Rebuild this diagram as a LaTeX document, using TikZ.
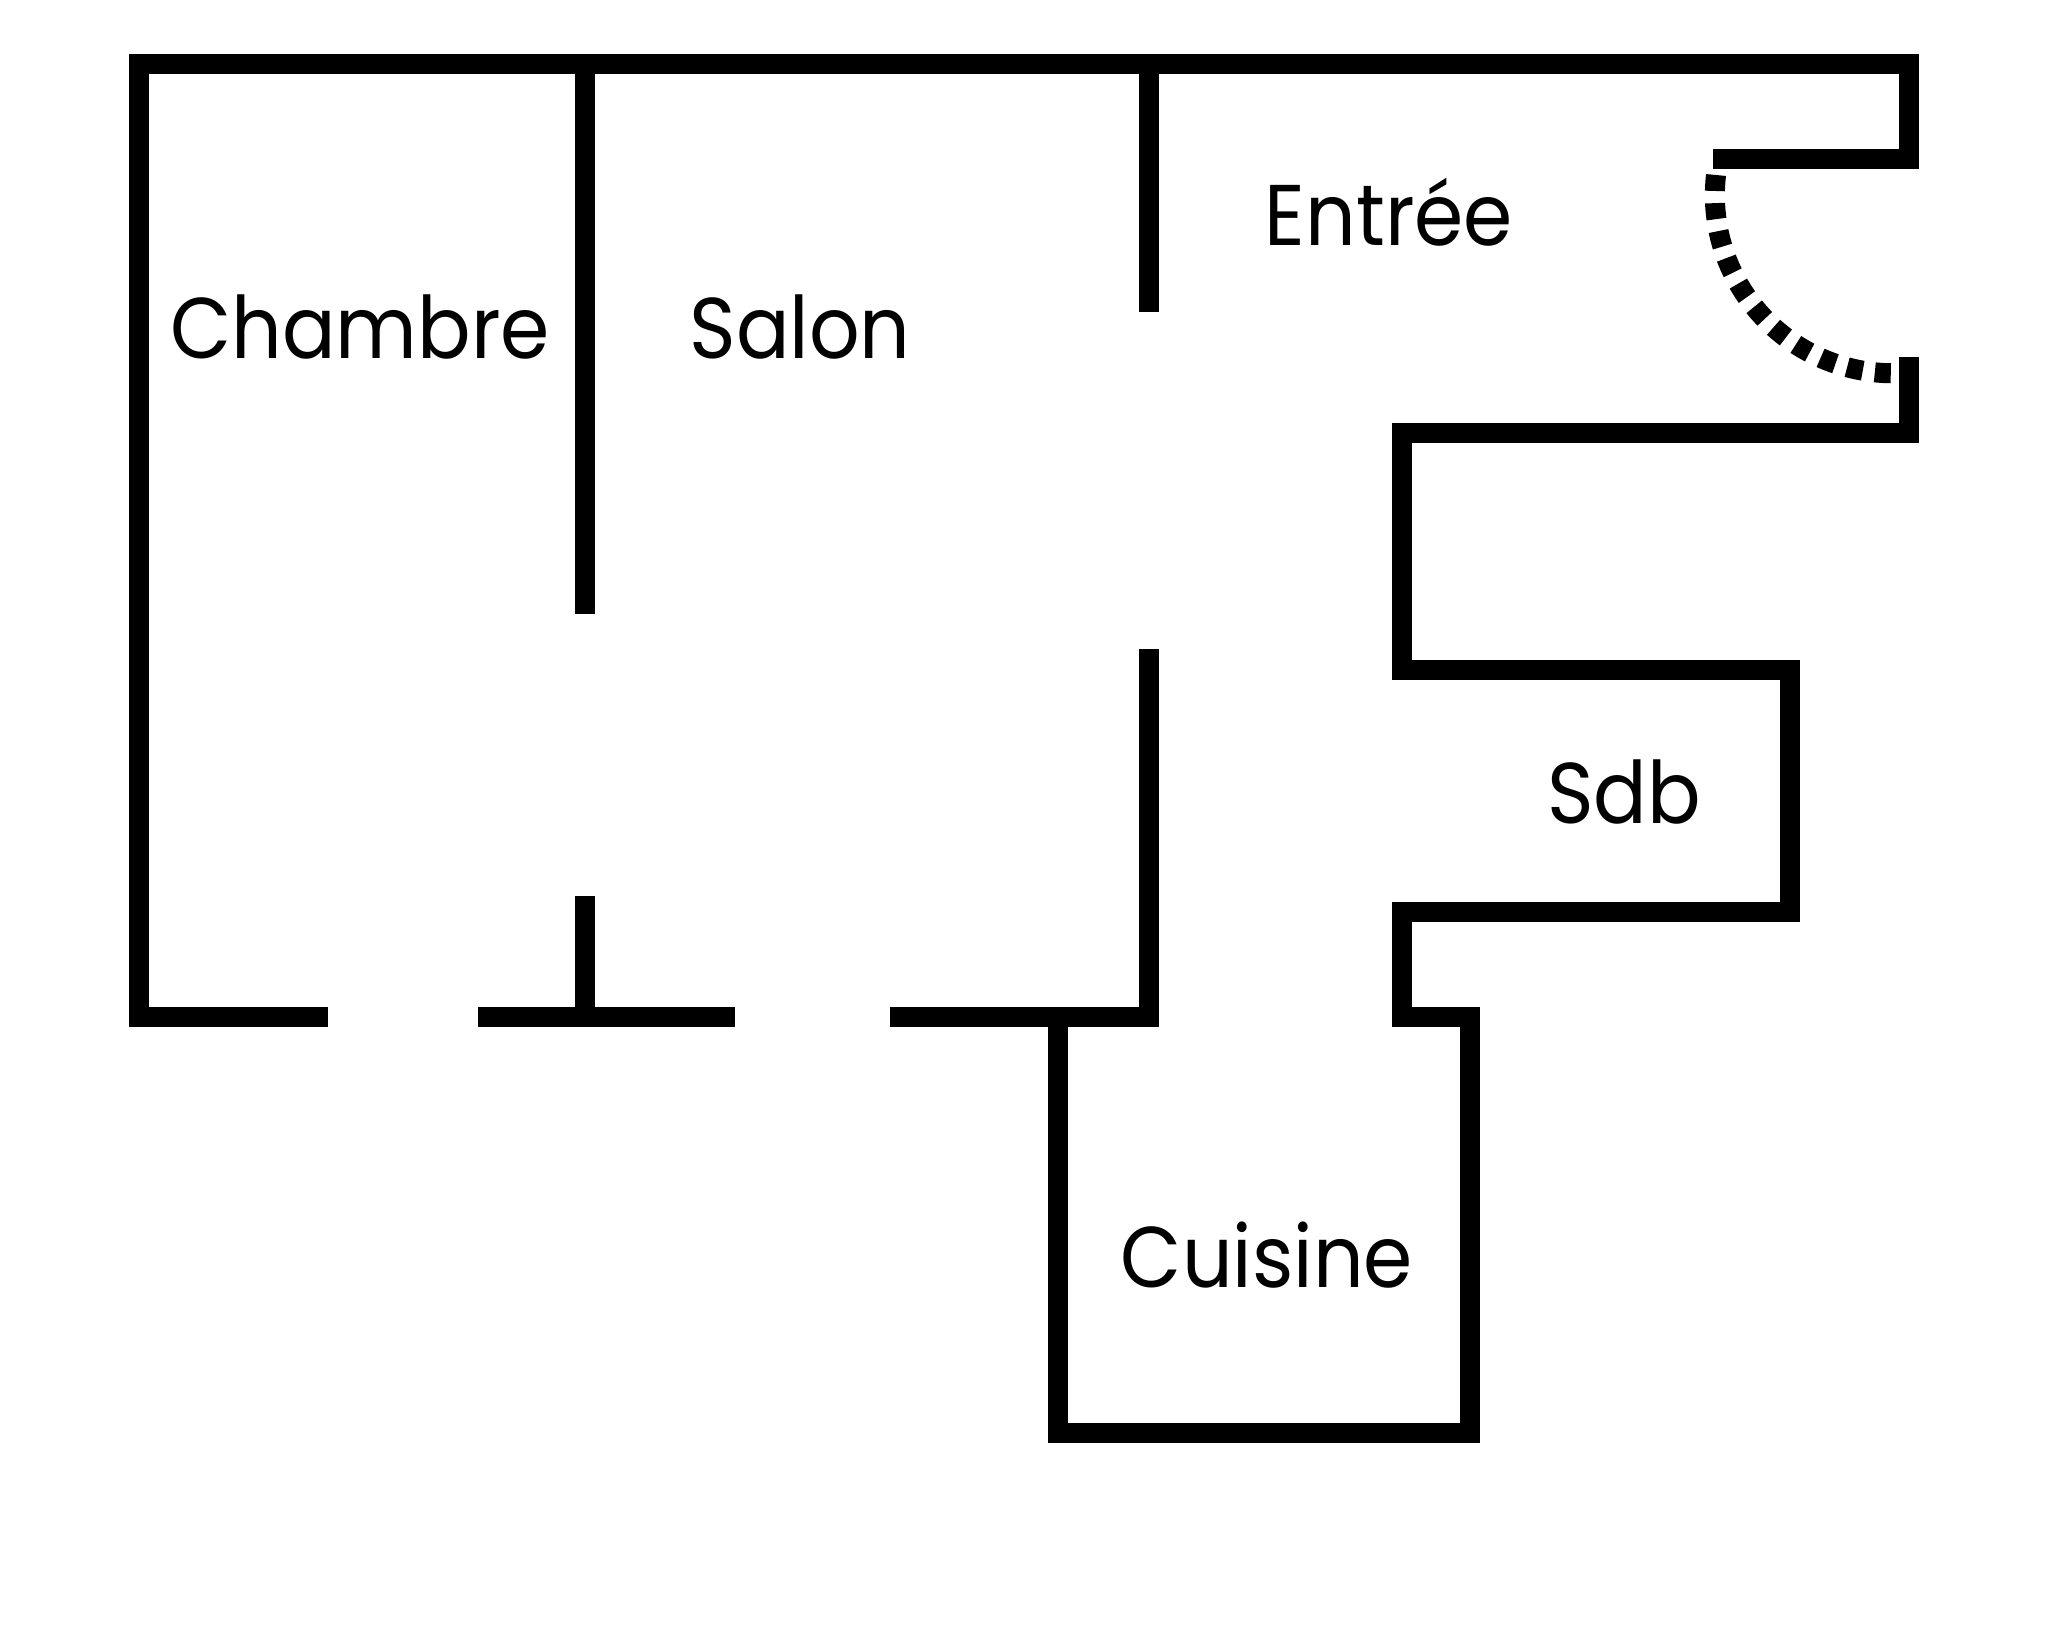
\documentclass[tikz,border=0pt]{standalone}
\usepackage{fontspec}
\setmainfont{Poppins}
\usepackage{tikz}
\pgfdeclarelayer{nodelayer}
\pgfdeclarelayer{edgelayer}
\pgfsetlayers{nodelayer,edgelayer,main}
\tikzset{
    wall/.style = {line width=0.2cm, line join=miter, line cap=butt},
    door/.style = {line width=0.2cm, line cap=butt, dash pattern=on 0.16cm off 0.1216cm},
    room/.style = {inner sep=0pt, anchor=base, xscale=0.92, font=\fontsize{24.5pt}{30pt}\selectfont}
}
\begin{document}
\begin{tikzpicture}[x=0.01cm, y=-0.01cm]
    \useasboundingbox (0, 0) rectangle (2048, 1645);
    \begin{pgfonlayer}{nodelayer}
        \node [style=room] (chambre) at (360, 358) {Chambre};
        \node [style=room] (salon) at (800, 358) {Salon};
        \node [style=room] (entree) at (1389, 245) {Entrée};
        \node [style=room] (sdb) at (1624, 823) {Sdb};
        \node [style=room] (cuisine) at (1267, 1287) {Cuisine};
    \end{pgfonlayer}
    \begin{pgfonlayer}{edgelayer}
        % outer walls
        \draw [style=wall] (328, 1017) -- (139, 1017) -- (139, 64) -- (1909, 64)
            -- (1909, 159) -- (1713, 159);
        \draw [style=wall] (1909, 357) -- (1909, 432.5) -- (1402, 432.5) -- (1402, 670)
            -- (1790, 670) -- (1790, 912) -- (1402, 912) -- (1402, 1017) -- (1469.5, 1017)
            -- (1469.5, 1433) -- (1058, 1433) -- (1058, 1017);
        % inner walls
        \draw [style=wall] (584.5, 64) -- (584.5, 614);
        \draw [style=wall] (1149, 64) -- (1149, 311.5);
        \draw [style=wall] (889.5, 1017) -- (1149, 1017) -- (1149, 649);
        \draw [style=wall] (478, 1017) -- (735, 1017);
        \draw [style=wall] (584.5, 1017) -- (584.5, 895.5);
        % door
        \draw [style=door] (1716, 175) arc [start angle=173.5, end angle=269.3, radius=1.78cm];
    \end{pgfonlayer}
\end{tikzpicture}
\end{document}
